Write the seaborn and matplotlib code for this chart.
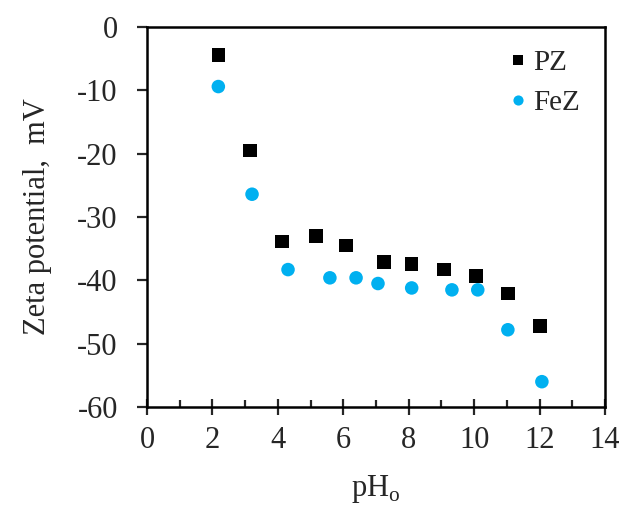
import pandas as pd
import seaborn as sns
import matplotlib.pyplot as plt
from matplotlib.ticker import MultipleLocator

# -----------------------------
# Data
# -----------------------------
ph_pz = [2.18, 3.15, 4.13, 5.17, 6.09, 7.24, 8.09, 9.07, 10.05, 11.03, 12.01]
zeta_pz = [-4.4, -19.5, -33.9, -33.0, -34.5, -37.1, -37.4, -38.3, -39.3, -42.1, -47.2]

ph_fez = [2.18, 3.21, 4.31, 5.59, 6.39, 7.06, 8.09, 9.32, 10.11, 11.03, 12.07]
zeta_fez = [-9.4, -26.4, -38.3, -39.6, -39.6, -40.5, -41.2, -41.5, -41.5, -47.8, -56.0]

samples = ['PZ', 'FeZ']

df = pd.concat([
    pd.DataFrame({'pH': ph_pz, 'Zeta': zeta_pz, 'Sample': 'PZ'}),
    pd.DataFrame({'pH': ph_fez, 'Zeta': zeta_fez, 'Sample': 'FeZ'}),
])

# -----------------------------
# Style
# -----------------------------
sns.set_style('ticks')
plt.rcParams['font.family'] = ['Liberation Serif', 'DejaVu Serif']
plt.rcParams['mathtext.fontset'] = 'custom'
plt.rcParams['mathtext.rm'] = 'Liberation Serif'
plt.rcParams['axes.unicode_minus'] = False

fig = plt.figure(figsize=(6.24, 5.07), dpi=100)
ax = fig.add_axes([0.2356, 0.1972, 0.7340, 0.7495])

sns.scatterplot(data=df, x='pH', y='Zeta', hue='Sample', style='Sample',
                hue_order=samples, style_order=samples,
                palette={'PZ': 'black', 'FeZ': '#00B0F0'},
                markers={'PZ': 's', 'FeZ': 'o'},
                s=95, linewidth=0, ax=ax)

ax.set_xlim(0, 14)
ax.set_ylim(-60, 0)
ax.xaxis.set_major_locator(MultipleLocator(2))
ax.xaxis.set_minor_locator(MultipleLocator(1))
ax.yaxis.set_major_locator(MultipleLocator(10))

for side in ['top', 'right', 'bottom', 'left']:
    ax.spines[side].set_visible(True)
    ax.spines[side].set_linewidth(1.8)
    ax.spines[side].set_color('black')

ax.tick_params(axis='x', which='major', direction='inout', length=11, width=1.6,
               labelsize=22, pad=8)
ax.tick_params(axis='x', which='minor', direction='in', length=5, width=1.6)
ax.tick_params(axis='y', which='major', direction='out', length=7, width=1.6,
               labelsize=22, pad=14)

ax.set_xlabel(r'pH$_\mathrm{o}$', fontsize=22, labelpad=13)
ax.set_ylabel('Zeta potential,  mV', fontsize=22, labelpad=18)

ax.legend(loc='upper left', bbox_to_anchor=(0.79, 0.94), frameon=False,
          fontsize=21, handletextpad=0.22, labelspacing=0.45, borderaxespad=0,
          borderpad=0, handlelength=0.6, markerscale=0.75)

plt.savefig('out.png', dpi=100)
